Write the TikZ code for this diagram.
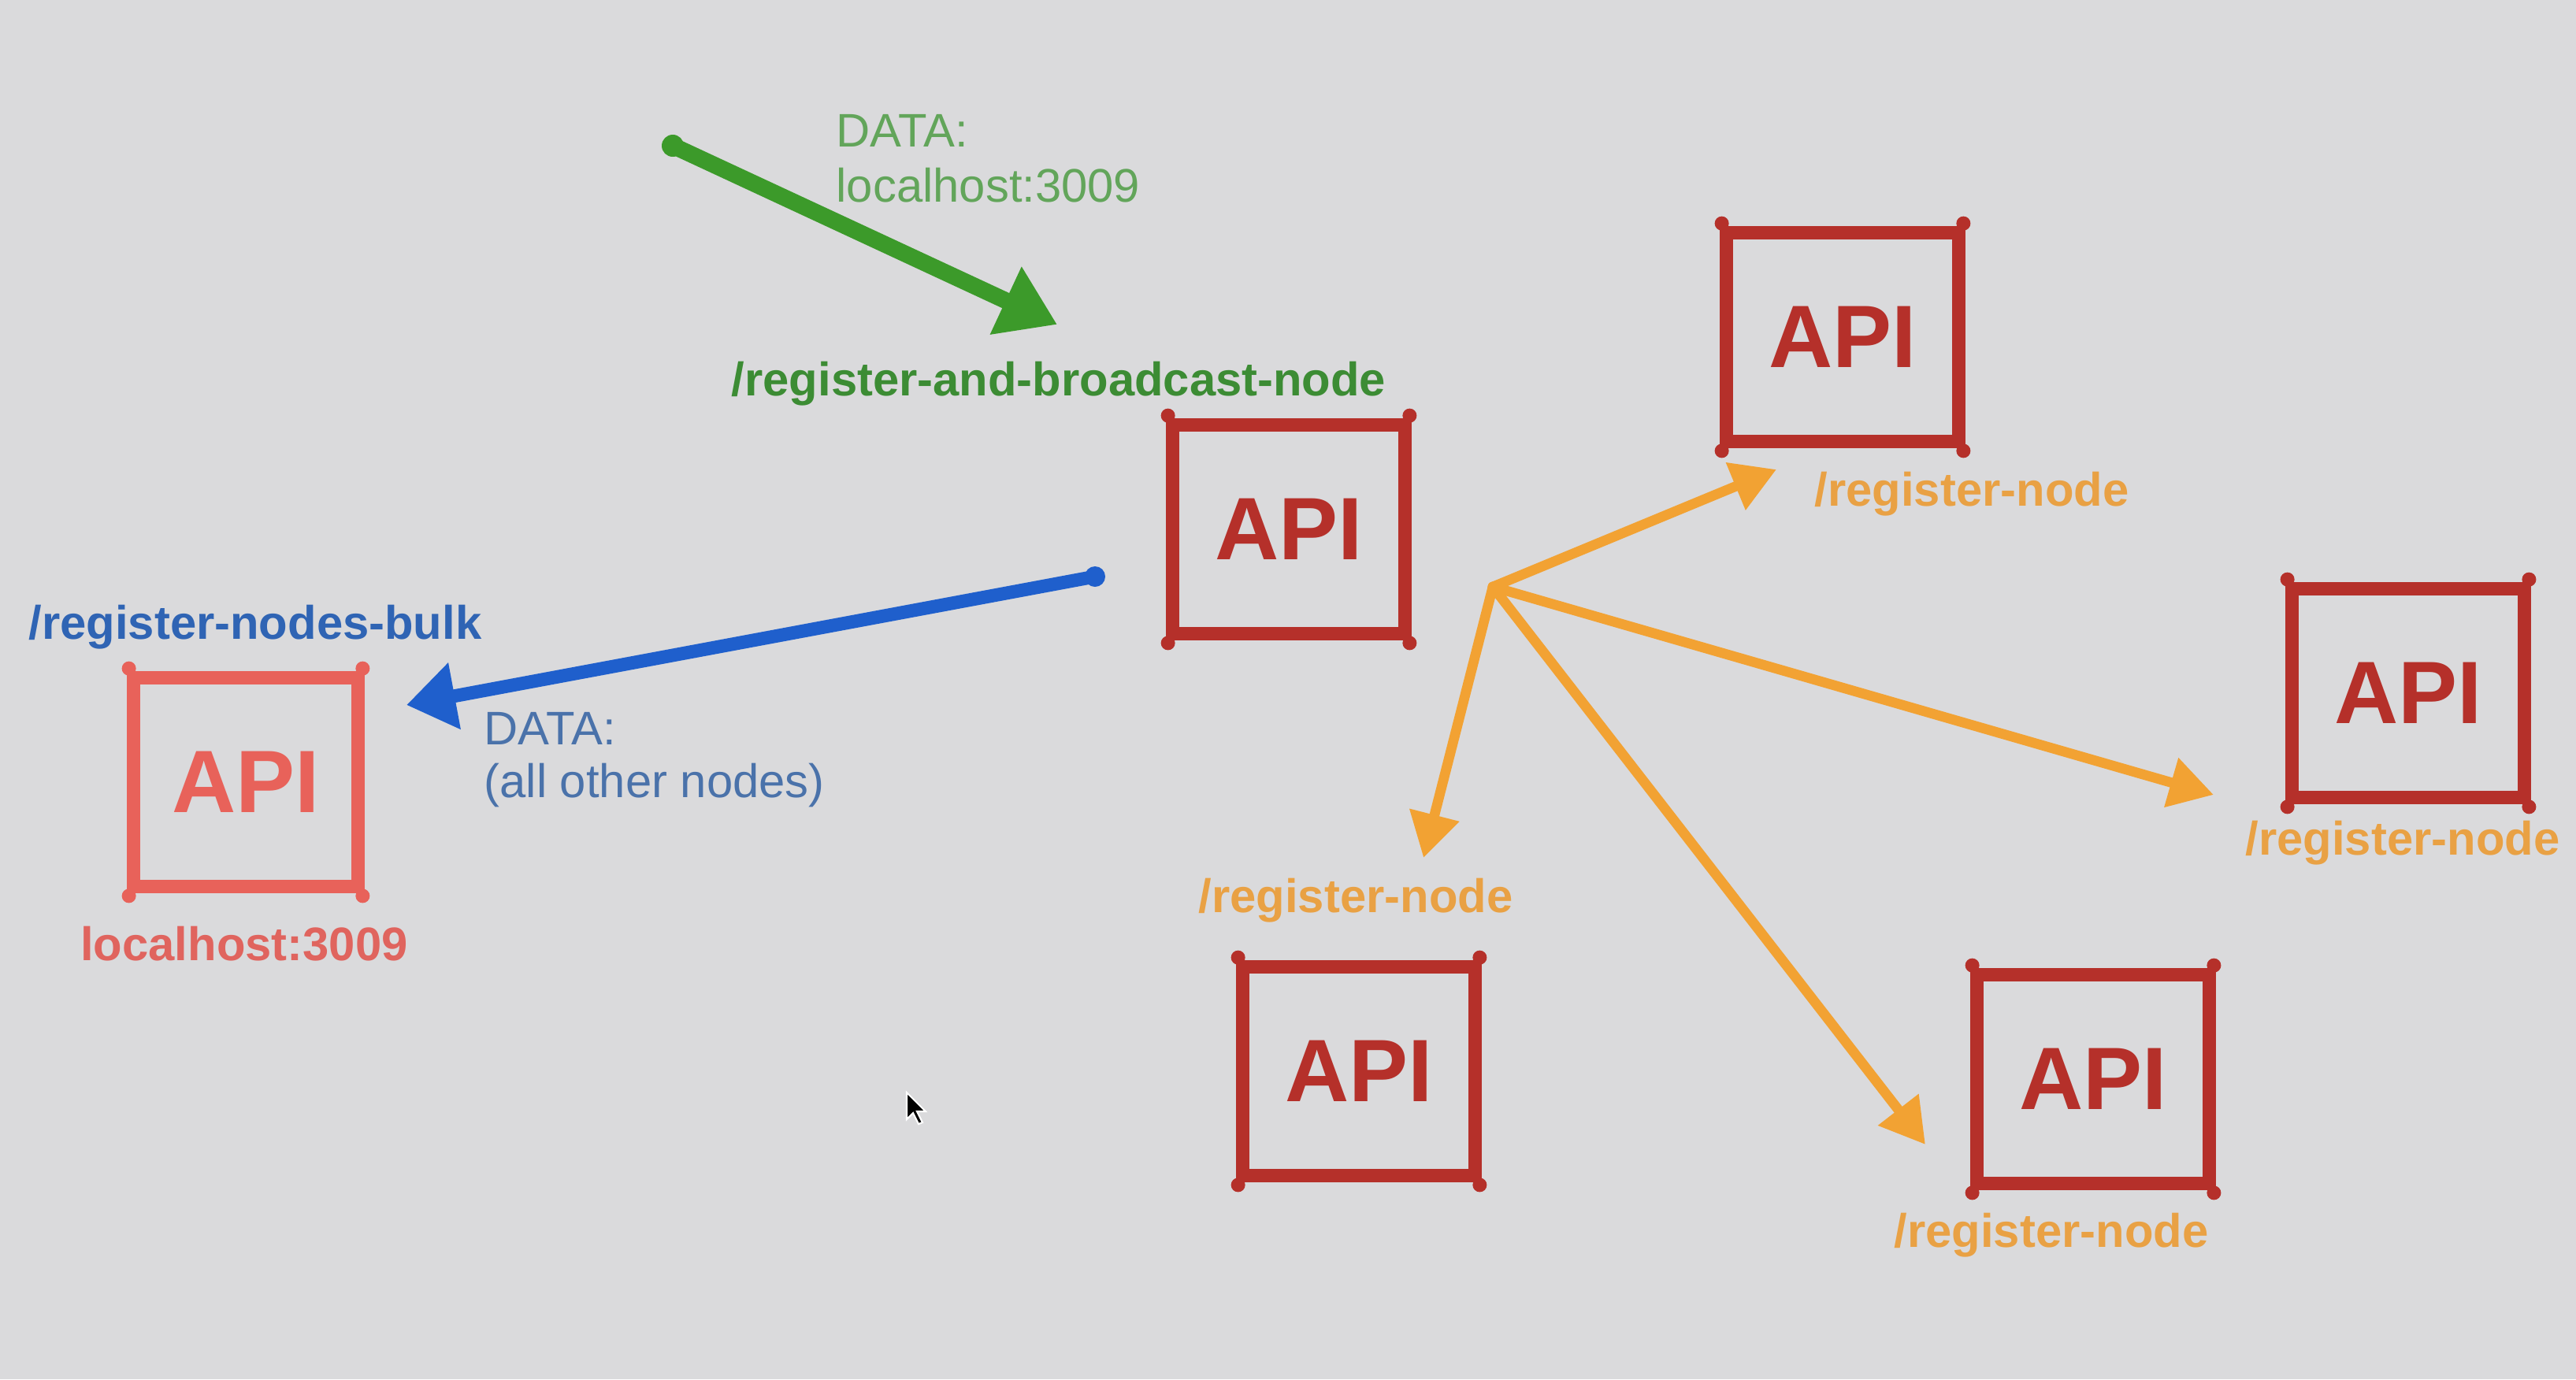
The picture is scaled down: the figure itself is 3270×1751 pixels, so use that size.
\documentclass[tikz,border=0pt]{standalone}
\usepackage{fontspec}
\setmainfont{Liberation Sans}
\usetikzlibrary{arrows.meta}
\definecolor{bgcol}{HTML}{DADADC}
\definecolor{apired}{HTML}{B5302A}
\definecolor{apipink}{HTML}{E8625A}
\definecolor{grnline}{HTML}{3C9A2A}
\definecolor{grntxt}{HTML}{3C8C34}
\definecolor{grnlight}{HTML}{62A55A}
\definecolor{bluline}{HTML}{1F5FCC}
\definecolor{blutxt}{HTML}{2F64B4}
\definecolor{blulight}{HTML}{4A72AA}
\definecolor{orgline}{HTML}{F2A233}
\definecolor{orgtxt}{HTML}{E9A144}
\definecolor{pinktxt}{HTML}{E0645E}
\tikzset{
  apibox/.style={draw=#1, text=#1, line width=5pt, minimum width=2.95cm, minimum height=2.65cm,
    inner sep=0pt, font=\fontsize{32}{36}\selectfont\bfseries},
  lbl/.style={inner sep=0pt, anchor=base, font=\fontsize{17}{20}\selectfont\bfseries},
  dat/.style={inner sep=0pt, anchor=base west, font=\fontsize{17}{20}\selectfont},
  garrow/.style={draw=grnline, line width=6pt, line cap=round, -{Triangle[length=0.72cm,width=0.9cm]}},
  barrow/.style={draw=bluline, line width=4.8pt, line cap=round, -{Triangle[length=0.62cm,width=0.82cm]}},
  oarrow/.style={draw=orgline, line width=3.6pt, line cap=round, -{Triangle[length=0.56cm,width=0.62cm]}}
}
\begin{document}
\begin{tikzpicture}[x=0.01cm,y=-0.01cm]
\fill[bgcol] (0,0) rectangle (3270,1751);
\useasboundingbox (0,0) rectangle (3270,1751);

% boxes
\node[apibox=apired] (c)  at (1636,672)  {API};
\node[apibox=apired] (tr) at (2339,428)  {API};
\node[apibox=apired] (r)  at (3057,880)  {API};
\node[apibox=apired] (bm) at (1725,1360) {API};
\node[apibox=apired] (br) at (2657,1370) {API};
\node[apibox=apipink, minimum width=2.85cm, minimum height=2.65cm] (lf) at (312,993) {API};

\foreach \n/\col in {c/apired,tr/apired,r/apired,bm/apired,br/apired,lf/apipink}{
  \foreach \a/\dx/\dy in {north west/3/3,north east/-3/3,south west/3/-3,south east/-3/-3}{
    \fill[\col] ([xshift=\dx*0.01cm,yshift=\dy*0.01cm]\n.\a) circle (0.09cm);
  }
}

% labels
\node[lbl, text=grntxt] (lrb) at (1344,502) {/register-and-broadcast-node};
\node[dat, text=grnlight] (gd1) at (1061,186) {DATA:};
\node[dat, text=grnlight] (gd2) at (1061,256) {localhost:3009};

\node[lbl, text=blutxt] (lbulk) at (324,811) {/register-nodes-bulk};
\node[dat, text=blulight] (bd1) at (614,945) {DATA:};
\node[dat, text=blulight] (bd2) at (614,1012) {(all other nodes)};

\node[lbl, text=pinktxt] (lhost) at (310,1219) {localhost:3009};

\node[lbl, text=orgtxt] (l1) at (2503,642)  {/register-node};
\node[lbl, text=orgtxt] (l2) at (1721,1158) {/register-node};
\node[lbl, text=orgtxt] (l3) at (3050,1085) {/register-node};
\node[lbl, text=orgtxt] (l4) at (2604,1583) {/register-node};

% connectors
\coordinate (gs) at (854,185);
\coordinate (gt) at (1342,412);
\fill[grnline] (gs) circle (0.14cm);
\draw[garrow] (gs) -- (gt);

\coordinate (bs) at (1390,732);
\coordinate (bt) at (516,895);
\fill[bluline] (bs) circle (0.13cm);
\draw[barrow] (bs) -- (bt);

\coordinate (o)  at (1895,745);
\coordinate (t1) at (2255,596);
\coordinate (t2) at (1807,1089);
\coordinate (t3) at (2810,1009);
\coordinate (t4) at (2444,1453);
\draw[oarrow] (o) -- (t1);
\draw[oarrow] (o) -- (t2);
\draw[oarrow] (o) -- (t3);
\draw[oarrow] (o) -- (t4);

% mouse pointer
\filldraw[fill=black, draw=white, line width=0.6pt]
  (1151,1387) -- ++(0,34) -- ++(8,-8) -- ++(7,14) -- ++(5,-2) -- ++(-7,-14) -- ++(11,0) -- cycle;
\end{tikzpicture}
\end{document}
